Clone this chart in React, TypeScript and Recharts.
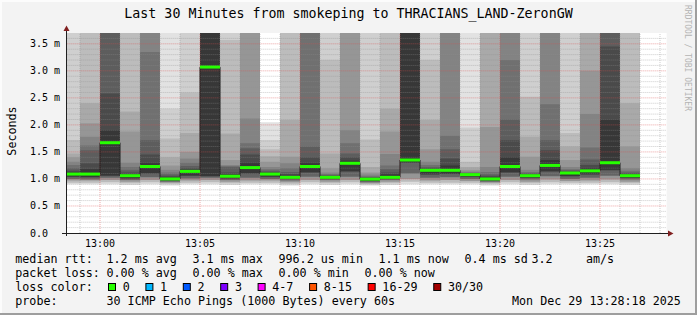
import React from "react";
import { Area, CartesianGrid, ComposedChart, Line, ReferenceLine, XAxis, YAxis } from "recharts";

// one slot per minute, value = RTT in ms (axis reads "m" = milliseconds)
const slotStart = [
  "12:58", "12:59", "13:00", "13:01", "13:02", "13:03", "13:04", "13:05", "13:06", "13:07",
  "13:08", "13:09", "13:10", "13:11", "13:12", "13:13", "13:14", "13:15", "13:16", "13:17",
  "13:18", "13:19", "13:20", "13:21", "13:22", "13:23", "13:24", "13:25", "13:26",
];

const median = [
  1.09, 1.09, 1.67, 1.06, 1.23, 1.0, 1.14, 3.07, 1.05, 1.21,
  1.09, 1.03, 1.23, 1.03, 1.29, 0.996, 1.03, 1.35, 1.16, 1.16,
  1.08, 1.0, 1.23, 1.06, 1.25, 1.11, 1.15, 1.3, 1.06,
];

const lossCount = [
  0, 0, 0, 0, 0, 0, 0, 0, 0, 0,
  0, 0, 0, 0, 0, 0, 0, 0, 0, 0,
  0, 0, 0, 0, 0, 0, 0, 0, 0,
];

// smoke above the median: outer ping first, inner last
const upperPings = [
  [5.2, 4.4, 1.72, 1.47, 1.4, 1.32, 1.26, 1.2, 1.15, 1.12],
  [6.0, 5.0, 4.2, 2.4, 2.03, 1.78, 1.62, 1.53, 1.29, 1.18],
  [9.0, 8.0, 7.0, 6.5, 6.0, 5.5, 5.0, 4.2, 2.58, 1.9],
  [5.5, 4.6, 3.9, 2.25, 1.88, 1.3, 1.22, 1.16, 1.12, 1.09],
  [8.0, 7.0, 6.2, 5.5, 4.8, 4.0, 3.35, 1.72, 1.45, 1.3],
  [4.5, 2.3, 1.75, 1.4, 1.25, 1.17, 1.12, 1.08, 1.05, 1.03],
  [5.0, 4.2, 2.6, 1.85, 1.5, 1.38, 1.3, 1.24, 1.2, 1.17],
  [12, 11, 10, 9.0, 8.0, 7.0, 6.5, 6.0, 5.0, 4.2],
  [5.0, 4.2, 3.57, 1.84, 1.35, 1.26, 1.24, 1.22, 1.12, 1.08],
  [8.0, 6.0, 5.0, 4.4, 3.9, 2.12, 1.66, 1.57, 1.45, 1.3],
  [2.05, 1.72, 1.55, 1.42, 1.32, 1.22, 1.18, 1.15, 1.13, 1.11],
  [6.0, 4.8, 4.0, 2.09, 1.41, 1.29, 1.2, 1.13, 1.09, 1.06],
  [9.0, 8.0, 7.0, 6.0, 5.5, 4.5, 4.0, 1.6, 1.4, 1.3],
  [5.0, 4.2, 3.2, 1.47, 1.2, 1.12, 1.09, 1.07, 1.06, 1.05],
  [7.0, 6.0, 5.0, 4.5, 4.0, 1.9, 1.66, 1.47, 1.4, 1.34],
  [5.0, 4.0, 1.73, 1.22, 1.12, 1.08, 1.05, 1.03, 1.02, 1.01],
  [6.0, 5.0, 4.3, 2.3, 1.88, 1.46, 1.25, 1.18, 1.12, 1.08],
  [12, 10, 9.0, 8.0, 7.0, 6.0, 5.5, 5.0, 4.6, 4.0],
  [5.0, 4.2, 3.2, 2.09, 1.55, 1.32, 1.26, 1.22, 1.2, 1.18],
  [8.0, 7.0, 6.0, 5.5, 5.0, 4.5, 1.8, 1.55, 1.38, 1.25],
  [5.0, 1.95, 1.32, 1.22, 1.17, 1.14, 1.12, 1.11, 1.1, 1.09],
  [6.0, 5.0, 4.5, 4.0, 1.96, 1.22, 1.13, 1.08, 1.05, 1.03],
  [8.0, 7.0, 6.0, 5.5, 5.0, 4.3, 3.2, 2.1, 1.72, 1.4],
  [5.0, 4.2, 2.52, 1.78, 1.41, 1.17, 1.13, 1.11, 1.09, 1.08],
  [8.0, 7.0, 6.0, 5.5, 4.5, 4.0, 2.38, 1.72, 1.53, 1.35],
  [5.0, 4.2, 1.85, 1.6, 1.35, 1.22, 1.18, 1.16, 1.14, 1.13],
  [6.0, 5.0, 4.5, 4.0, 3.0, 2.2, 1.58, 1.36, 1.26, 1.2],
  [9.0, 8.0, 7.0, 6.5, 6.0, 5.5, 5.0, 4.3, 3.45, 2.1],
  [6.0, 5.0, 4.2, 2.4, 1.6, 1.2, 1.15, 1.12, 1.1, 1.08],
];

// smoke below the median: outer ping first
const lowerPings = [
  [0.9, 0.93, 0.97, 1.0, 1.04],
  [0.9, 0.93, 0.97, 0.99, 1.03],
  [0.9, 0.94, 0.98, 1.02, 1.06],
  [0.89, 0.92, 0.95, 0.98, 1.01],
  [0.9, 0.94, 0.98, 1.03, 1.1],
  [0.88, 0.91, 0.93, 0.95, 0.97],
  [0.9, 0.93, 0.97, 1.01, 1.06],
  [0.9, 0.94, 0.98, 1.02, 1.05],
  [0.89, 0.92, 0.95, 0.98, 1.01],
  [0.9, 0.93, 0.97, 1.02, 1.1],
  [0.9, 0.93, 0.97, 1.0, 1.04],
  [0.88, 0.91, 0.94, 0.97, 1.0],
  [0.9, 0.94, 0.98, 1.04, 1.12],
  [0.89, 0.92, 0.95, 0.98, 1.0],
  [0.9, 0.94, 0.98, 1.04, 1.14],
  [0.88, 0.9, 0.92, 0.94, 0.96],
  [0.89, 0.92, 0.95, 0.98, 1.0],
  [0.9, 0.95, 1.0, 1.1, 1.3],
  [0.9, 0.93, 0.97, 1.02, 1.08],
  [0.9, 0.93, 0.98, 1.03, 1.09],
  [0.9, 0.93, 0.96, 1.0, 1.04],
  [0.88, 0.91, 0.93, 0.95, 0.97],
  [0.9, 0.94, 0.98, 1.04, 1.12],
  [0.89, 0.92, 0.95, 0.99, 1.02],
  [0.9, 0.94, 0.99, 1.05, 1.14],
  [0.9, 0.93, 0.96, 1.0, 1.05],
  [0.9, 0.93, 0.97, 1.02, 1.08],
  [0.9, 0.94, 0.99, 1.06, 1.16],
  [0.89, 0.92, 0.95, 0.99, 1.02],
];

const yTicks = [0, 0.5, 1.0, 1.5, 2.0, 2.5, 3.0, 3.5];
const xTicks = [0, 5, 10, 15, 20, 25];

const lossLabels = ["0", "1", "2", "3", "4-7", "8-15", "16-29", "30/30"];
const lossColors = ["#26ff00", "#00b8ff", "#0059ff", "#7e00ff", "#ff00ff", "#ff5500", "#ff0000", "#a10000"];

const X_MIN = -100 / 60; // 12:58:20
const X_MAX = 1700 / 60; // 13:28:20
const Y_MAX = 3.7;

const MONO = "'DejaVu Sans Mono', monospace";
const upShade = [226, 207, 188, 169, 150, 131, 112, 93, 74, 55];
const lowShade = [221, 187, 150, 100, 55];
const gray = (v: number) => `rgb(${v},${v},${v})`;

const toMin = (hhmm: string) => {
  const [h, m] = hhmm.split(":").map(Number);
  return h * 60 + m - 13 * 60;
};
const fmtClock = (t: number) => {
  const m = 13 * 60 + t;
  return `${Math.floor(m / 60)}:${String(m % 60).padStart(2, "0")}`;
};
const lossCategory = (n: number) =>
  n <= 3 ? n : n <= 7 ? 4 : n <= 15 ? 5 : n <= 29 ? 6 : 7;

const rows: Record<string, any>[] = slotStart.map((s, i) => {
  const row: Record<string, any> = { t: toMin(s), med: median[i] };
  upperPings[i].forEach((v, j) => (row["u" + j] = [median[i], v]));
  lowerPings[i].forEach((v, j) => (row["l" + j] = [v, median[i]]));
  return row;
});
const lastRow = rows[rows.length - 1];
rows.push({ ...lastRow, t: lastRow.t + 1 });

const minorY: number[] = [];
for (let k = 1; k <= 36; k++) if (k % 5 !== 0) minorY.push(k / 10);
const minorX: number[] = [];
for (let k = -1; k <= 28; k++) if (k % 5 !== 0) minorX.push(k);

const GRID = "rgba(143,143,143,0.45)";
const MGRID = "rgba(222,79,79,0.5)";

function YTick({ y, payload }: any) {
  const v = payload.value as number;
  return (
    <text x={30} y={y + 3.5} fontSize={10} fontFamily={MONO} fill="#000">
      {v === 0 ? "0.0" : `${v.toFixed(1)} m`}
    </text>
  );
}

function XTick({ x, y, payload }: any) {
  return (
    <text x={x} y={y + 12} fontSize={10} fontFamily={MONO} fill="#000" textAnchor="middle">
      {fmtClock(payload.value)}
    </text>
  );
}

function Legend() {
  const t = (x: number, y: number, s: string) => (
    <text x={x} y={y} fontSize={11.7} fontFamily={MONO} fill="#000" style={{ whiteSpace: "pre" }}>
      {s}
    </text>
  );
  let bx = 108.5;
  const boxes = lossLabels.map((lab, i) => {
    const x = bx;
    bx += 30.35 + 7.05 * lab.length;
    return (
      <g key={lab}>
        <rect x={x} y={283.5} width={7} height={7} fill={lossColors[i]} stroke="#000" strokeWidth={1} />
        {t(x + 14.2, 291, lab)}
      </g>
    );
  });
  return (
    <g>
      {t(15.3, 263, "median rtt:")}
      {t(106.5, 263, "1.2 ms avg")}
      {t(192.5, 263, "3.1 ms max")}
      {t(278.5, 263, "996.2 us min")}
      {t(378.5, 263, "1.1 ms now")}
      {t(464.5, 263, "0.4 ms sd")}
      {t(531.5, 263, "3.2")}
      {t(586, 263, "am/s")}
      {t(15.3, 277, "packet loss:")}
      {t(106.5, 277, "0.00 % avg")}
      {t(192.5, 277, "0.00 % max")}
      {t(278.5, 277, "0.00 % min")}
      {t(364.5, 277, "0.00 % now")}
      {t(15.3, 291, "loss color:")}
      {boxes}
      {t(15.3, 305, "probe:")}
      {t(106.5, 305, "30 ICMP Echo Pings (1000 Bytes) every 60s")}
      {t(512, 305, "Mon Dec 29 13:28:18 2025")}
    </g>
  );
}

export default function App() {
  return (
    <div style={{ position: "relative", width: 697, height: 315, background: "#f3f3f3" }}>
      <style>{"body{margin:0}"}</style>
      <ComposedChart width={697} height={315} data={rows} margin={{ top: 33, right: 30.33, bottom: 62, left: 0 }}>
        <CartesianGrid fill="#ffffff" horizontal={false} vertical={false} />
        <XAxis
          dataKey="t"
          type="number"
          domain={[X_MIN, X_MAX]}
          allowDataOverflow
          ticks={xTicks}
          interval={0}
          height={20}
          axisLine={false}
          tickLine={false}
          tickSize={0}
          tick={XTick}
        />
        <YAxis
          type="number"
          domain={[0, Y_MAX]}
          allowDataOverflow
          ticks={yTicks}
          interval={0}
          width={66.67}
          axisLine={false}
          tickLine={false}
          tick={YTick}
        />
        {upShade.map((c, j) => (
          <Area
            key={"u" + j}
            dataKey={"u" + j}
            type="stepAfter"
            fill={gray(c)}
            fillOpacity={1}
            stroke="none"
            dot={false}
            activeDot={false}
            isAnimationActive={false}
          />
        ))}
        {lowShade.map((c, j) => (
          <Area
            key={"l" + j}
            dataKey={"l" + j}
            type="stepAfter"
            fill={gray(c)}
            fillOpacity={1}
            stroke="none"
            dot={false}
            activeDot={false}
            isAnimationActive={false}
          />
        ))}
        {minorY.map((v) => (
          <ReferenceLine key={"gy" + v} y={v} stroke={GRID} strokeDasharray="1 1" />
        ))}
        {minorX.map((v) => (
          <ReferenceLine key={"gx" + v} x={v} stroke={GRID} strokeDasharray="1 1" />
        ))}
        {yTicks.filter((v) => v > 0).map((v) => (
          <ReferenceLine key={"my" + v} y={v} stroke={MGRID} strokeDasharray="1 1" />
        ))}
        {xTicks.map((v) => (
          <ReferenceLine key={"mx" + v} x={v} stroke={MGRID} strokeDasharray="1 1" />
        ))}
        <Line
          dataKey="med"
          type="stepAfter"
          stroke="#202020"
          strokeWidth={1}
          dot={false}
          activeDot={false}
          isAnimationActive={false}
        />
        {slotStart.map((s, i) => (
          <ReferenceLine
            key={"m" + i}
            segment={[
              { x: Math.max(toMin(s), X_MIN), y: median[i] },
              { x: toMin(s) + 1, y: median[i] },
            ]}
            stroke={lossColors[lossCategory(lossCount[i])]}
            strokeWidth={3}
          />
        ))}
      </ComposedChart>
      <svg width={697} height={315} style={{ position: "absolute", left: 0, top: 0, pointerEvents: "none" }}>
        <line x1={0} y1={1} x2={697} y2={1} stroke="#fcfcfc" strokeWidth={2} />
        <line x1={1} y1={0} x2={1} y2={315} stroke="#fcfcfc" strokeWidth={2} />
        <line x1={0} y1={314} x2={697} y2={314} stroke="#9e9e9e" strokeWidth={2} />
        <line x1={696} y1={0} x2={696} y2={315} stroke="#9e9e9e" strokeWidth={2} />
        <text x={348.5} y={18.3} textAnchor="middle" fontSize={13.3} fontFamily={MONO} fill="#000">
          Last 30 Minutes from smokeping to THRACIANS_LAND-ZeronGW
        </text>
        <text
          transform="translate(15.5,131) rotate(-90)"
          textAnchor="middle"
          fontSize={11.7}
          fontFamily={MONO}
          fill="#000"
        >
          Seconds
        </text>
        <text transform="translate(685,5) rotate(90)" fontSize={8} fontFamily={MONO} fill="#b4b4b4">
          RRDTOOL / TOBI OETIKER
        </text>
        <line x1={66.5} y1={236} x2={66.5} y2={30} stroke="#1f1f1f" strokeWidth={1} />
        <line x1={62} y1={233.5} x2={669} y2={233.5} stroke="#1f1f1f" strokeWidth={1} />
        <polygon points="63.5,31 69.5,31 66.5,25.5" fill="#801f1f" />
        <polygon points="668,230.5 668,236.5 673.5,233.5" fill="#801f1f" />
        <Legend />
      </svg>
    </div>
  );
}
